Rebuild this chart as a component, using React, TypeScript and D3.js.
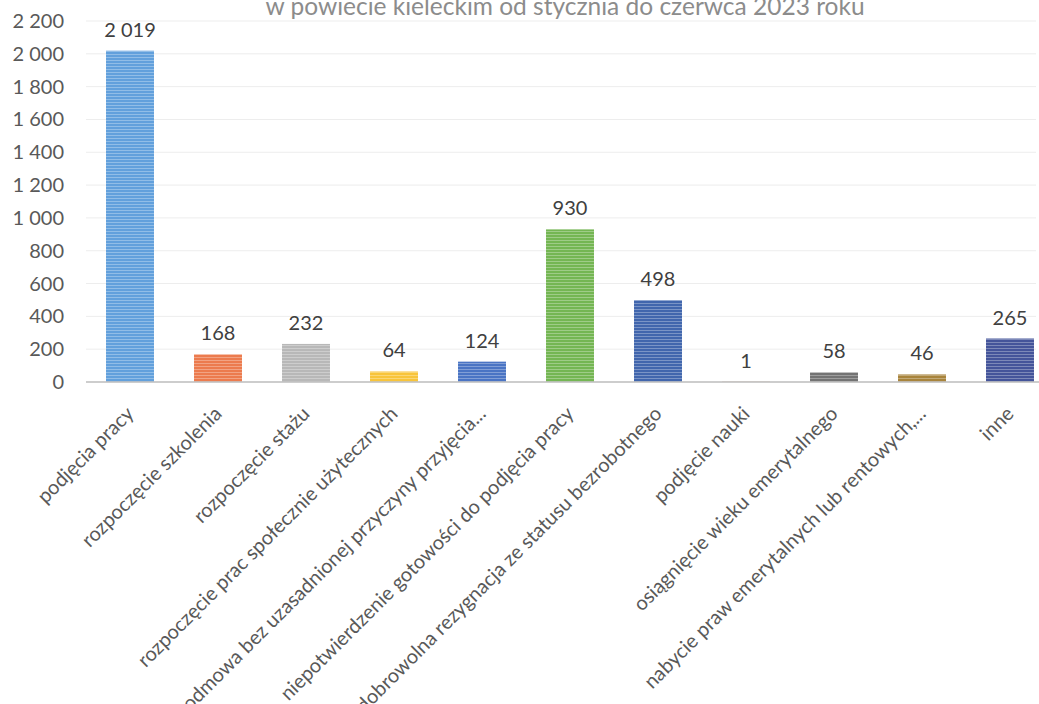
import React from "react";
import * as d3 from "d3";

const titleText = "w powiecie kieleckim od stycznia do czerwca 2023 roku";
const categories = [
  "podjęcia pracy",
  "rozpoczęcie szkolenia",
  "rozpoczęcie stażu",
  "rozpoczęcie prac społecznie użytecznych",
  "odmowa bez uzasadnionej przyczyny przyjęcia...",
  "niepotwierdzenie gotowości do podjęcia pracy",
  "dobrowolna rezygnacja ze statusu bezrobotnego",
  "podjęcie nauki",
  "osiągnięcie wieku emerytalnego",
  "nabycie praw emerytalnych lub rentowych,...",
  "inne",
];
const values = [2019, 168, 232, 64, 124, 930, 498, 1, 58, 46, 265];
const colors = [
  "#62a0dc", "#ec7b4e", "#b8b8b8", "#f8c43a", "#4a74c4", "#74b653",
  "#4166ad", "#9e480e", "#737373", "#a8843c", "#44549a",
];
const yTicks = [0, 200, 400, 600, 800, 1000, 1200, 1400, 1600, 1800, 2000, 2200];

const fmt = (v: number) => {
  const s = String(v);
  return s.length > 3 ? s.slice(0, s.length - 3) + " " + s.slice(-3) : s;
};

export default function App() {
  const W = 1039, H = 704;
  const x = d3.scaleBand<string>().domain(categories).range([86, 1054]).paddingInner(0.455).paddingOuter(0.2275);
  const y = d3.scaleLinear().domain([0, 2200]).range([382, 21]);
  const font = "Lato, 'Open Sans', sans-serif";
  return (
    <svg width={W} height={H} style={{ position: "absolute", left: 0, top: 0, background: "#fff" }}>
      <defs>
        <pattern id="stripes" width="4" height="3" patternUnits="userSpaceOnUse">
          <rect x="0" y="0" width="4" height="1" fill="#ffffff" opacity="0.3" />
        </pattern>
      </defs>
      <text x={565} y={15} textAnchor="middle" fontFamily={font} fontSize={24.5} fill="#8c8c8c">{titleText}</text>
      {yTicks.map((t) => (
        <g key={t}>
          {t > 0 && <line x1={86} x2={1036} y1={y(t)} y2={y(t)} stroke="#ededed" strokeWidth={1} />}
          <text x={64} y={y(t)} dy="0.35em" textAnchor="end" fontFamily={font} fontSize={20} fill="#595959">{fmt(t)}</text>
        </g>
      ))}
      {categories.map((c, i) => {
        const bx = x(c)!;
        const bw = x.bandwidth();
        const top = y(values[i]);
        return (
          <g key={c}>
            <rect x={bx} y={top} width={bw} height={y(0) - top} fill={colors[i]} />
            <rect x={bx} y={top} width={bw} height={y(0) - top} fill="url(#stripes)" />
            <text x={bx + bw / 2} y={top - 14} textAnchor="middle" fontFamily={font} fontSize={20} fill="#404040">{fmt(values[i])}</text>
          </g>
        );
      })}
      <line x1={86} x2={1039} y1={y(0)} y2={y(0)} stroke="#bdbdbd" strokeWidth={1.5} />
      {categories.map((c) => {
        const cx = x(c)! + x.bandwidth() / 2;
        return (
          <text key={c} transform={`translate(${cx + 5},${415}) rotate(-45)`} textAnchor="end" fontFamily={font} fontSize={20} fill="#595959">{c}</text>
        );
      })}
    </svg>
  );
}
